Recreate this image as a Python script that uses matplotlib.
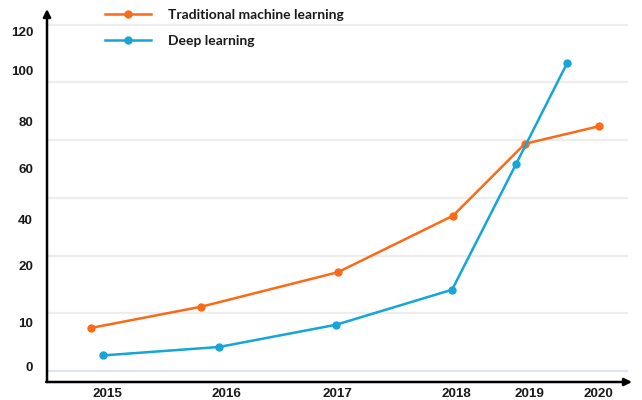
import numpy as np
import matplotlib
matplotlib.use("Agg")
import matplotlib.pyplot as plt

# values (y in the units of the tick labels)
trad_x = [2014.84, 2015.96, 2017.35, 2018.52, 2019.25, 2020.0]
trad_y = [8.8, 12.8, 18.9, 41.6, 70.6, 78.0]
deep_x = [2014.96, 2016.14, 2017.33, 2018.51, 2019.16, 2019.68]
deep_y = [2.6, 4.5, 9.5, 15.8, 62.0, 103.9]

year_labels = ["2015", "2016", "2017", "2018", "2019", "2020"]
year_ticks = [2015.0, 2016.22, 2017.34, 2018.55, 2019.30, 2020.0]

y_labels = [0, 10, 20, 40, 60, 80, 100, 120]
# where each y label sits, in grid-row units (the grid rows are evenly spaced)
y_label_rows = [0.07, 0.84, 1.82, 2.62, 3.50, 4.32, 5.20, 5.88]

ORANGE = "#fb6a17"
BLUE = "#15a5d8"


def piecewise(xp, fp):
    """piecewise-linear map with linear extension past both ends"""
    xp = np.asarray(xp, float)
    fp = np.asarray(fp, float)

    def f(v):
        v = np.asarray(v, float)
        out = np.interp(v, xp, fp)
        lo = fp[0] + (v - xp[0]) * (fp[1] - fp[0]) / (xp[1] - xp[0])
        hi = fp[-1] + (v - xp[-1]) * (fp[-1] - fp[-2]) / (xp[-1] - xp[-2])
        out = np.where(v < xp[0], lo, out)
        out = np.where(v > xp[-1], hi, out)
        return out
    return f


fwd = piecewise(y_labels, y_label_rows)
inv = piecewise(y_label_rows, y_labels)

fig = plt.figure(figsize=(6.42, 4.0), dpi=100)
ax = fig.add_axes([47 / 642, 18 / 400, 585 / 642, 373 / 400])
ax.set_yscale("function", functions=(fwd, inv))
ax.set_xlim(2014.39, 2020.34)
ax.set_ylim(float(inv(-0.19)), float(inv(6.27)))

# grid rows
for g in range(1, 7):
    ax.axhline(float(inv(g)), xmax=0.991, color="#ededed", lw=1.6, zorder=0)
ax.axhline(float(inv(0)), xmax=0.991, color="#dde5f7", lw=1.6, zorder=0)

ax.plot(trad_x, trad_y, color=ORANGE, lw=1.8, marker="o", ms=5,
        label="Traditional machine learning", zorder=3)
ax.plot(deep_x, deep_y, color=BLUE, lw=1.8, marker="o", ms=5,
        label="Deep learning", zorder=3)

for s in ax.spines.values():
    s.set_visible(False)
# axis arrows
arrow = dict(arrowstyle="-|>", color="black", lw=1.8, mutation_scale=11,
             shrinkA=0, shrinkB=0)
ax.annotate("", xy=(0, 1), xytext=(0, 0), xycoords="axes fraction",
            arrowprops=arrow, annotation_clip=False)
ax.annotate("", xy=(1, 0), xytext=(-0.0015, 0), xycoords="axes fraction",
            arrowprops=arrow, annotation_clip=False)

ax.set_yticks(y_labels)
ax.set_yticklabels([str(v) for v in y_labels])
ax.yaxis.set_minor_locator(matplotlib.ticker.NullLocator())
ax.set_xticks(year_ticks)
ax.set_xticklabels(year_labels)
ax.tick_params(axis="y", length=0, pad=10)
ax.tick_params(axis="x", length=0, pad=4)
for lab in ax.get_xticklabels() + ax.get_yticklabels():
    lab.set_fontfamily("Liberation Sans")
    lab.set_fontweight("bold")
    lab.set_fontsize(9.6)
    lab.set_color("#1a1a1a")

ax.legend(loc="upper left", bbox_to_anchor=(105 / 642, 0.978),
          bbox_transform=fig.transFigure, frameon=False, borderpad=0,
          borderaxespad=0, handlelength=3.3, handletextpad=1.25,
          labelspacing=1.0, labelcolor="#1a1a1a",
          prop=dict(family="Lato", weight="bold", size=10))

fig.savefig("out.png", dpi=100)
